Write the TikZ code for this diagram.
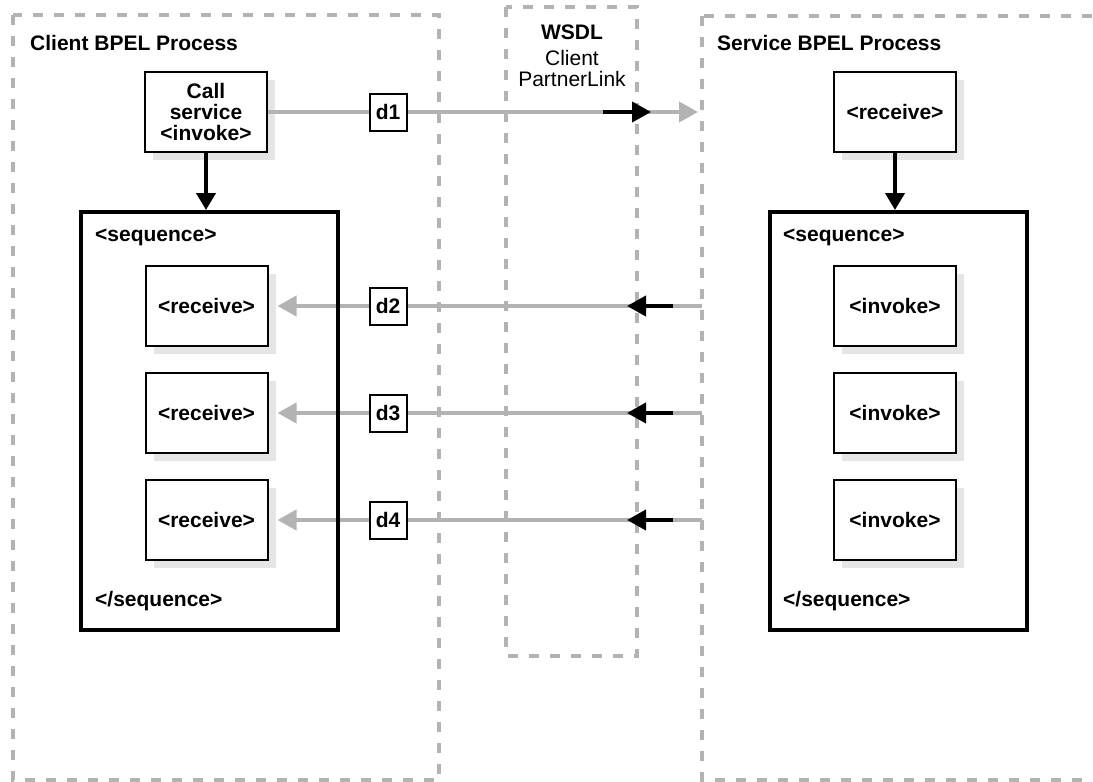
\documentclass[tikz,border=0pt]{standalone}
\usepackage{fontspec}
\setmainfont{Liberation Sans}
\usetikzlibrary{arrows.meta, shadows}
\definecolor{linkgray}{HTML}{B3B3B3}
\definecolor{shadowgray}{HTML}{E5E5E5}
\pgfdeclarelayer{background}
\pgfsetlayers{background,main}
\tikzset{
  procbox/.style={draw=linkgray, line width=4pt, dash pattern=on 10pt off 11pt},
  titletext/.style={font=\fontsize{21}{21}\selectfont\bfseries, inner sep=0pt},
  linktext/.style={font=\fontsize{21}{21}\selectfont, inner sep=0pt},
  actbox/.style={draw, line width=2pt, fill=white, minimum width=122pt, minimum height=80pt,
    align=center, inner sep=0pt, font=\fontsize{21}{21}\selectfont\bfseries,
    drop shadow={shadow xshift=8pt, shadow yshift=-8pt, fill=shadowgray, opacity=1}},
  seqbox/.style={draw, line width=4pt, minimum width=257pt, minimum height=418pt},
  dbox/.style={draw, line width=2pt, fill=white, minimum size=37pt, inner sep=0pt,
    font=\fontsize{21}{21}\selectfont\bfseries},
  linkarrow/.style={draw=linkgray, line width=4pt, -{Triangle[length=19pt, width=20pt]}},
  wsdlarrow/.style={draw=black, line width=4pt, -{Triangle[length=19pt, width=20pt]}},
  flowarrow/.style={draw=black, line width=4pt, -{Triangle[length=17pt, width=19pt]}}
}
\begin{document}
\begin{tikzpicture}[x=1pt, y=-1pt]
  % 1. page frame
  \clip (0,0) rectangle (1093,782);

  % 2. process areas and their titles
  \draw[procbox] (13,15) rectangle (439,780);
  \draw[procbox] (506,7) rectangle (637,656);
  \draw[procbox] (702,16) rectangle (1120,780);
  \node[titletext, anchor=base west] (ctitle) at (30,50) {Client BPEL Process};
  \node[titletext, anchor=base west] (stitle) at (717,50) {Service BPEL Process};
  \node[titletext, anchor=base] (wsdl) at (572,39) {WSDL};
  \node[linktext, anchor=base] (wsdlclient) at (572,65) {Client};
  \node[linktext, anchor=base] (wsdlplink) at (572,86) {PartnerLink};

  % 3. client process
  \node[actbox] (call) at (206,112) {Call\\service\\<invoke>};
  \node[seqbox] (cseq) at (209.5,421) {};
  \node[titletext, anchor=west] (cseqopen) at (95,237) {<sequence>};
  \node[titletext, anchor=west] (cseqclose) at (95,601) {</sequence>};
  \foreach \i/\y in {2/306, 3/413, 4/520}
    \node[actbox] (crecv\i) at (206.5,\y) {<receive>};

  % 4. service process
  \node[actbox] (srecv) at (895,112) {<receive>};
  \node[seqbox] (sseq) at (898.5,421) {};
  \node[titletext, anchor=west] (sseqopen) at (783,237) {<sequence>};
  \node[titletext, anchor=west] (sseqclose) at (783,601) {</sequence>};
  \foreach \i/\y in {2/306, 3/413, 4/520}
    \node[actbox] (sinv\i) at (895,\y) {<invoke>};

  \draw[flowarrow] (call.south) -- (call.south |- cseq.north);
  \draw[flowarrow] (srecv.south) -- (srecv.south |- sseq.north);

  % 5. messages through the partner link
  \coordinate (lend1) at (698,112);
  \coordinate (wtail1) at (603,112);
  \coordinate (whead1) at (651,112);
  \foreach \i/\y in {2/306, 3/413, 4/520} {
    \coordinate (lstart\i) at (702,\y);
    \coordinate (wtail\i) at (673,\y);
    \coordinate (whead\i) at (627,\y);
  }
  \draw[linkarrow] (call.east) -- (lend1);
  \begin{pgfonlayer}{background}
    \foreach \i in {2,3,4}
      \draw[linkarrow] (lstart\i) -- ([xshift=9pt]crecv\i.east);
  \end{pgfonlayer}
  \foreach \i in {1,2,3,4}
    \draw[wsdlarrow] (wtail\i) -- (whead\i);

  \node[dbox] (d1) at (388,112) {d1};
  \foreach \i/\y in {2/306, 3/413, 4/520}
    \node[dbox] (d\i) at (388,\y) {d\i};
\end{tikzpicture}
\end{document}
